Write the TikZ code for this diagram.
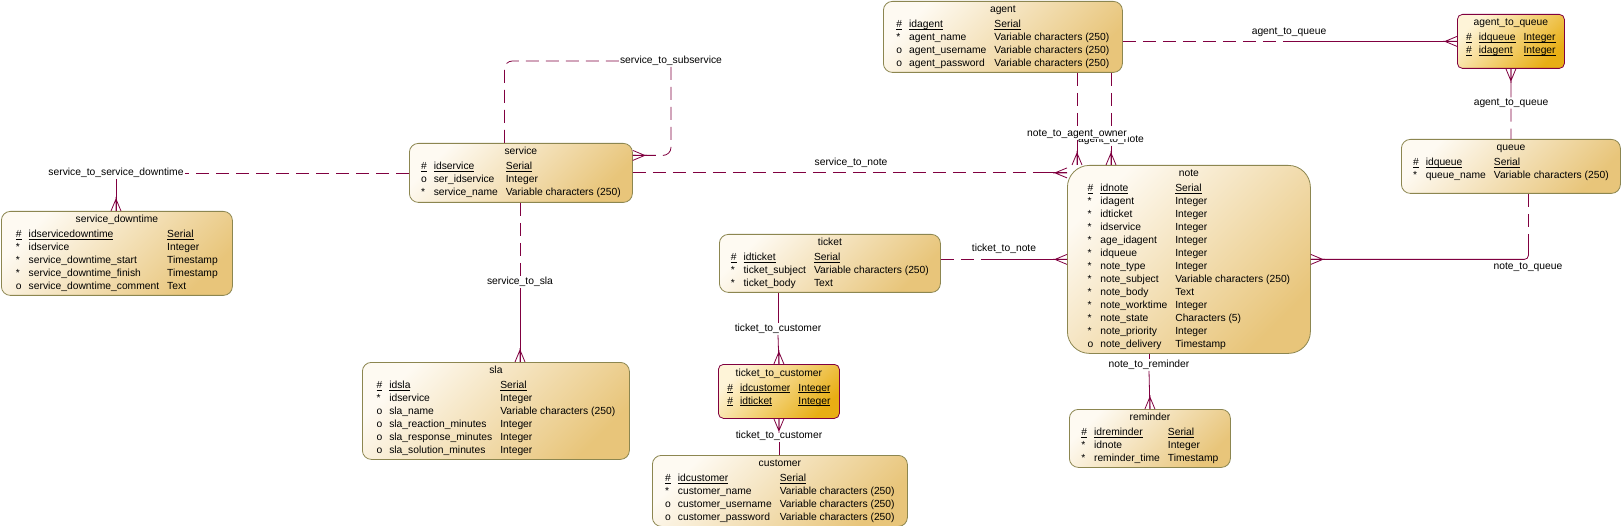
\documentclass[tikz,border=0pt]{standalone}
\usepackage{fontspec}
\setmainfont{Liberation Sans}
\usetikzlibrary{calc}

\definecolor{relcol}{HTML}{800040}
\definecolor{entline}{HTML}{8C8650}
\definecolor{entlight}{HTML}{FEFAF2}
\definecolor{entdark}{HTML}{E8C57A}
\definecolor{asslight}{HTML}{FEF4D8}
\definecolor{assdark}{HTML}{E8AE14}

\newcommand{\entfont}{\fontsize{10.3pt}{13pt}\selectfont}
\newcommand{\pk}[1]{\sbox0{#1}\rlap{\rule[-1.8pt]{\wd0}{0.6pt}}\usebox0}
\newcommand{\req}{{*}}
\newenvironment{entrows}{\begin{tabular}{@{}l@{\hspace{7pt}}l@{\hspace{8pt}}l@{}}}{\end{tabular}}

\tikzset{
  entity/.style={rectangle, draw=entline, line width=0.8pt, rounded corners=9pt, top color=entlight, bottom color=entdark, shading angle=45, anchor=north west, inner xsep=4pt, inner ysep=2pt, font=\entfont},
  assoc/.style={entity, draw=relcol, rounded corners=5pt, top color=asslight, bottom color=assdark, shading angle=45},
  rel/.style={draw=relcol, line width=0.8pt},
  reldash/.style={rel, dash pattern=on 13pt off 7pt},
  rellabel/.style={font=\entfont, inner sep=1pt},
  crow/.pic={\draw[rel] (-14pt,0pt) -- (0pt,0pt) (-12pt,0pt) -- (0pt,5pt) (-12pt,0pt) -- (0pt,-5pt);}
}

\begin{document}
\begin{tikzpicture}[x=1pt, y=-1pt]
    \fill[white] (0,0) rectangle (1621,526);
    \useasboundingbox (0,0) rectangle (1621,526);

    % Tables
    \node (sdown) [entity, minimum width=231pt, minimum height=84pt] at (1,211) {\begin{entrows}
        \multicolumn{3}{c}{service\_downtime}\\[2pt]
        \pk{\#} & \pk{idservicedowntime} & \pk{Serial}\\
        \req & idservice & Integer\\
        \req & service\_downtime\_start & Timestamp\\
        \req & service\_downtime\_finish & Timestamp\\
        o & service\_downtime\_comment & Text
    \end{entrows}};
    \node (service) [entity, minimum width=223pt, minimum height=59pt] at (409,143) {\begin{entrows}
        \multicolumn{3}{c}{service}\\[2pt]
        \pk{\#} & \pk{idservice} & \pk{Serial}\\
        o & ser\_idservice & Integer\\
        \req & service\_name & Variable characters (250)
    \end{entrows}};
    \node (sla) [entity, minimum width=267pt, minimum height=96pt] at (362,362) {\begin{entrows}
        \multicolumn{3}{c}{sla}\\[2pt]
        \pk{\#} & \pk{idsla} & \pk{Serial}\\
        \req & idservice & Integer\\
        o & sla\_name & Variable characters (250)\\
        o & sla\_reaction\_minutes & Integer\\
        o & sla\_response\_minutes & Integer\\
        o & sla\_solution\_minutes & Integer
    \end{entrows}};
    \node (ticket) [entity, minimum width=221pt, minimum height=58pt] at (719,234) {\begin{entrows}
        \multicolumn{3}{c}{ticket}\\[2pt]
        \pk{\#} & \pk{idticket} & \pk{Serial}\\
        \req & ticket\_subject & Variable characters (250)\\
        \req & ticket\_body & Text
    \end{entrows}};
    \node (tcust) [assoc, minimum width=121pt, minimum height=54pt] at (718,364) {\begin{entrows}
        \multicolumn{3}{c}{ticket\_to\_customer}\\[2pt]
        \pk{\#} & \pk{idcustomer} & \pk{Integer}\\
        \pk{\#} & \pk{idticket} & \pk{Integer}\\[8pt]
    \end{entrows}};
    \node (customer) [entity, minimum width=255pt, minimum height=69pt] at (652,455) {\begin{entrows}
        \multicolumn{3}{c}{customer}\\[2pt]
        \pk{\#} & \pk{idcustomer} & \pk{Serial}\\
        \req & customer\_name & Variable characters (250)\\
        o & customer\_username & Variable characters (250)\\
        o & customer\_password & Variable characters (250)
    \end{entrows}};
    \node (agent) [entity, minimum width=239pt, minimum height=70pt] at (883,1) {\begin{entrows}
        \multicolumn{3}{c}{agent}\\[2pt]
        \pk{\#} & \pk{idagent} & \pk{Serial}\\
        \req & agent\_name & Variable characters (250)\\
        o & agent\_username & Variable characters (250)\\
        o & agent\_password & Variable characters (250)
    \end{entrows}};
    \node (aq) [assoc, minimum width=107pt, minimum height=54pt] at (1457,14) {\begin{entrows}
        \multicolumn{3}{c}{agent\_to\_queue}\\[2pt]
        \pk{\#} & \pk{idqueue} & \pk{Integer}\\
        \pk{\#} & \pk{idagent} & \pk{Integer}\\[8pt]
    \end{entrows}};
    \node (queue) [entity, minimum width=219pt, minimum height=54pt] at (1401,139) {\begin{entrows}
        \multicolumn{3}{c}{queue}\\[2pt]
        \pk{\#} & \pk{idqueue} & \pk{Serial}\\
        \req & queue\_name & Variable characters (250)\\[8pt]
    \end{entrows}};
    \node (note) [entity, rounded corners=22pt, minimum width=243pt, minimum height=187pt] at (1067,165) {\begin{entrows}
        \multicolumn{3}{c}{note}\\[2pt]
        \pk{\#} & \pk{idnote} & \pk{Serial}\\
        \req & idagent & Integer\\
        \req & idticket & Integer\\
        \req & idservice & Integer\\
        \req & age\_idagent & Integer\\
        \req & idqueue & Integer\\
        \req & note\_type & Integer\\
        \req & note\_subject & Variable characters (250)\\
        \req & note\_body & Text\\
        \req & note\_worktime & Integer\\
        \req & note\_state & Characters (5)\\
        \req & note\_priority & Integer\\
        o & note\_delivery & Timestamp
    \end{entrows}};
    \node (reminder) [entity, minimum width=161pt, minimum height=58pt] at (1069,409) {\begin{entrows}
        \multicolumn{3}{c}{reminder}\\[2pt]
        \pk{\#} & \pk{idreminder} & \pk{Serial}\\
        \req & idnote & Integer\\
        \req & reminder\_time & Timestamp
    \end{entrows}};

    % Reference labels
    \node (lsd) [rellabel] at (116,173) {service\_to\_service\_downtime};
    \node (lss) [rellabel] at (671,61) {service\_to\_subservice};
    \node (lsn) [rellabel] at (851,163) {service\_to\_note};
    \node (lsla) [rellabel] at (520,282) {service\_to\_sla};
    \node (lan) [rellabel] at (1111,140) {agent\_to\_note};
    \node (lao) [rellabel, fill=white] at (1077,134) {note\_to\_agent\_owner};
    \node (laq1) [rellabel] at (1289,32) {agent\_to\_queue};
    \node (laq2) [rellabel] at (1511,103) {agent\_to\_queue};
    \node (lnq) [rellabel] at (1528,267) {note\_to\_queue};
    \node (ltn) [rellabel] at (1004,249) {ticket\_to\_note};
    \node (ltc1) [rellabel] at (778,329) {ticket\_to\_customer};
    \node (ltc2) [rellabel] at (779,436) {ticket\_to\_customer};
    \node (lnr) [rellabel] at (1149,365) {note\_to\_reminder};

    % References
    \draw [reldash] (lsd.east -| service.west) -- (lsd.east);
    \draw [rel] (lsd.south) -- (lsd |- sdown.north);
    \pic [rotate=-90] at (lsd |- sdown.north) {crow};

    \draw [reldash, rounded corners=8pt] ([xshift=-16.5pt]service.north) |- (lss.west);
    \draw [reldash, rounded corners=8pt] (lss.south) |- ([yshift=17.5pt]service.east);
    \pic [rotate=180] at ([yshift=17.5pt]service.east) {crow};

    \draw [reldash] (service.east) -- ($(note.west |- service.east)+(-25,0)$) coordinate (snmid);
    \draw [rel] (snmid) -- (note.west |- service.east);
    \pic at (note.west |- service.east) {crow};

    \draw [reldash] (lsla |- service.south) -- (lsla.north);
    \draw [rel] (lsla.south) -- (lsla |- sla.north);
    \pic [rotate=-90] at (lsla |- sla.north) {crow};

    \draw [reldash] (ticket.east |- note.west) -- ++(50,0) coordinate (tnmid);
    \draw [rel] (tnmid) -- (note.west);
    \pic at (note.west) {crow};

    \draw [rel] (ltc1 |- ticket.south) -- (ltc1.north);
    \draw [rel] (ltc1.south) -- (tcust.north);
    \pic [rotate=-90] at (tcust.north) {crow};
    \draw [rel] (tcust.south) -- (ltc2.north);
    \pic [rotate=90] at (tcust.south) {crow};
    \draw [rel] (ltc2.south) -- (ltc2 |- customer.north);

    \draw [reldash] (agent.east |- aq.west) -- (laq1 |- aq.west);
    \draw [rel] (laq1 |- aq.west) -- (aq.west);
    \pic at (aq.west) {crow};
    \draw [rel] (aq.south) -- (laq2.north);
    \pic [rotate=90] at (aq.south) {crow};
    \draw [reldash] (laq2.south) -- (queue.north);

    \draw [reldash] ([xshift=17.5pt]queue.south) -- ++(0,42) coordinate (nqmid);
    \draw [rel, rounded corners=4pt] (nqmid) |- (note.east);
    \pic [rotate=180] at (note.east) {crow};

    \draw [reldash] (lao |- agent.south) -- (lao.north);
    \draw [rel] (lao.south) -- (lao |- note.north);
    \pic [rotate=-90] at (lao |- note.north) {crow};
    \draw [reldash] (lan |- agent.south) -- (lan |- lao.north);
    \draw [rel] (lan.south) -- (lan |- note.north);
    \pic [rotate=-90] at (lan |- note.north) {crow};

    \draw [rel] (lnr |- note.south) -- (lnr.north);
    \draw [rel] (lnr.south) -- (reminder.north);
    \pic [rotate=-90] at (reminder.north) {crow};
\end{tikzpicture}
\end{document}
